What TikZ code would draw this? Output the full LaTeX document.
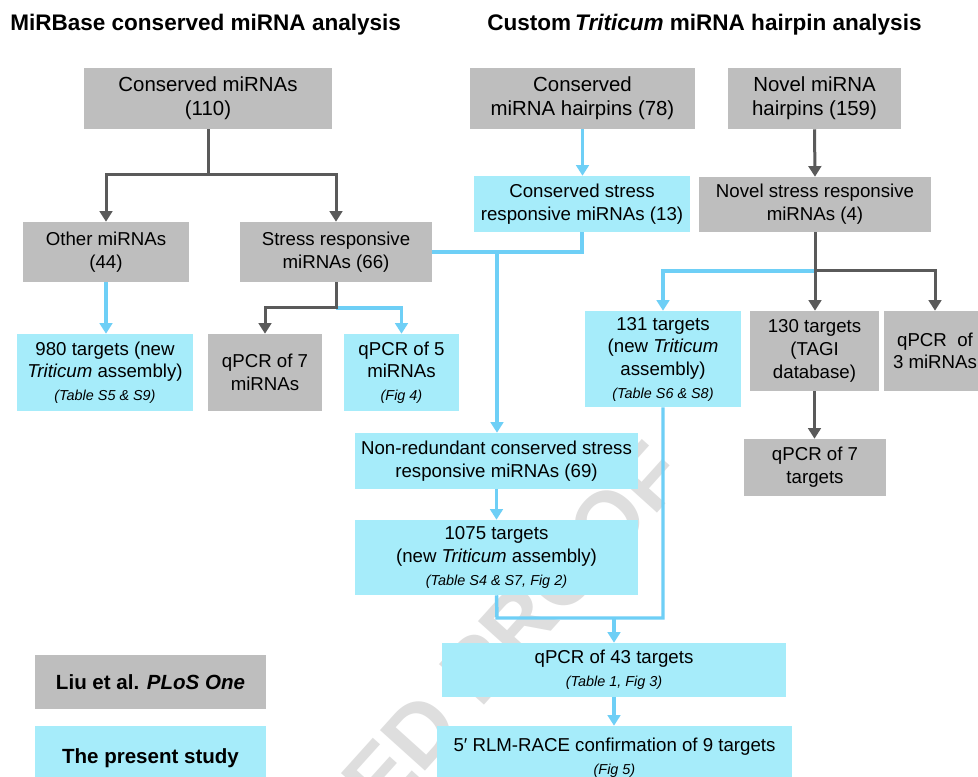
\documentclass[tikz,border=0pt]{standalone}
\usepackage{fontspec}
\setmainfont{Liberation Sans}
\usetikzlibrary{arrows.meta}
\definecolor{boxgray}{RGB}{190,190,190}
\definecolor{boxcyan}{RGB}{166,236,250}
\definecolor{linecyan}{RGB}{110,207,246}
\definecolor{linegray}{RGB}{90,90,90}
\definecolor{wmgray}{RGB}{222,222,222}
\newcommand\smallref[1]{{\fontsize{10.8}{12}\selectfont\itshape #1}}
\begin{document}
\begin{tikzpicture}[x=0.75pt,y=-0.75pt,
  box/.style={inner sep=0pt, align=center, font=\fontsize{14}{17}\selectfont, text=black},
  bigbox/.style={font=\fontsize{15.3}{18}\selectfont},
  gbox/.style={box, fill=boxgray},
  cbox/.style={box, fill=boxcyan},
  legend/.style={font=\fontsize{15.4}{18}\selectfont\bfseries},
  gline/.style={draw=linegray, line width=2.25pt},
  cline/.style={draw=linecyan, line width=2.6pt},
  garr/.style={gline, -{Triangle[width=9.5pt,length=8pt]}},
  carr/.style={cline, -{Triangle[width=9.5pt,length=8pt]}},
  title/.style={anchor=base west, inner sep=0pt, font=\fontsize{16.9}{20}\selectfont\bfseries}
]
\useasboundingbox (0,0) rectangle (978,777);
\fill[white] (0,0) rectangle (978,777);
% watermark
\begin{scope}
\clip (0,0) rectangle (978,777);
\node[rotate=48, anchor=base east, inner sep=0pt, text=wmgray, font=\fontsize{66}{72}\selectfont\bfseries] (wm) at (690,477) {UNCORRECTED PROOF};
\end{scope}
% titles
\node[title] (t1) at (10,31) {MiRBase conserved miRNA analysis};
\node[title] (t2) at (487,31) {Custom\hspace{3pt}\textit{Triticum} miRNA hairpin analysis};
% left column
\node[gbox, bigbox, minimum width=186pt, minimum height=45.75pt] (cm) at (208,98.5) {Conserved miRNAs\\(110)};
\node[gbox, minimum width=124.5pt, minimum height=45pt] (other) at (106,252) {Other miRNAs\\(44)};
\node[gbox, minimum width=144pt, minimum height=45pt] (stress) at (336,252) {Stress responsive\\miRNAs (66)};
\node[cbox, minimum width=132pt, minimum height=57.75pt] (t980) at (105,372.5) {980 targets (new\\\textit{Triticum} assembly)\\\smallref{(Table S5 \& S9)}};
\node[gbox, minimum width=85.5pt, minimum height=57.75pt] (q7m) at (265,372.5) {qPCR of 7\\miRNAs};
\node[cbox, minimum width=86.25pt, minimum height=57.75pt] (q5m) at (401.5,372.5) {qPCR of 5\\miRNAs\\\smallref{(Fig 4)}};
% right columns
\node[gbox, bigbox, minimum width=168.75pt, minimum height=45.75pt] (chp) at (582.5,98.5) {Conserved\\miRNA hairpins (78)};
\node[gbox, bigbox, minimum width=129.75pt, minimum height=45.75pt] (nhp) at (814.5,98.5) {Novel miRNA\\hairpins (159)};
\node[cbox, minimum width=162pt, minimum height=42pt] (css) at (582,204) {Conserved stress\\responsive miRNAs (13)};
\node[gbox, minimum width=174pt, minimum height=41.25pt] (nss) at (815,204.5) {Novel stress responsive\\miRNAs (4)};
\node[cbox, minimum width=117pt, minimum height=72pt] (t131) at (663,359) {131 targets\\(new \textit{Triticum}\\assembly)\\\smallref{(Table S6 \& S8)}};
\node[gbox, minimum width=96.75pt, minimum height=60pt] (t130) at (814.5,351) {130 targets\\(TAGI\\database)};
\node[gbox, minimum width=76.5pt, minimum height=60pt] (q3m) at (935,351) {qPCR\ \ of\\3 miRNAs};
\node[gbox, minimum width=106.5pt, minimum height=42.75pt] (q7t) at (815,467.5) {qPCR of 7\\targets};
\node[cbox, minimum width=212.25pt, minimum height=42pt] (nr) at (496.5,461) {Non-redundant conserved stress\\responsive miRNAs (69)};
\node[cbox, minimum width=212.25pt, minimum height=56.25pt] (t1075) at (496.5,557.5) {1075 targets\\(new \textit{Triticum} assembly)\\\smallref{(Table S4 \& S7, Fig 2)}};
\node[cbox, minimum width=258pt, minimum height=40.5pt] (q43) at (614,670) {qPCR of 43 targets\\\smallref{(Table 1, Fig 3)}};
\node[cbox, minimum width=266.25pt, minimum height=48pt] (race) at (614.5,758) {5′ RLM-RACE confirmation of 9 targets\\\smallref{(Fig 5)}};
% legend
\node[gbox, legend, minimum width=173.25pt, minimum height=40.5pt] (liu) at (150.5,682) {Liu et al. \textit{PLoS One}};
\node[cbox, legend, minimum width=173.25pt, minimum height=48pt] (present) at (150.5,758) {The present study};
% junctions
\coordinate (j1) at (208,175);
\coordinate (j2) at (336,308);
\coordinate (j3) at (582,252);
\coordinate (j4) at (497,252);
\coordinate (j5) at (815,271);
\coordinate (j6) at (497,618);
\coordinate (j7) at (663,618);
\coordinate (j8) at (614,618);
% connectors
\draw[garr] (cm.south) -- (j1) -| (other.north);
\draw[garr] (j1) -| (stress.north);
\draw[carr] (other.south) -- (other.south |- t980.north);
\draw[carr] (j2) -| (q5m.north);
\draw[garr] (stress.south) -- (j2) -| (q7m.north);
\draw[carr] (chp.south) -- (chp.south |- css.north);
\draw[garr] (nhp.south) -- (nss.north);
\draw[cline, line width=3pt] (css.south) -- (j3) -- (stress.east);
\draw[carr, line width=3.5pt] (j4) -- (j4 |- nr.north);
\draw[carr] (nr.south) -- (nr.south |- t1075.north);
\draw[carr] (j5) -| (t131.north);
\draw[gline] (nss.south) -- (j5);
\draw[garr] (j5) -| (q3m.north);
\draw[garr] (j5) -- (j5 |- t130.north);
\draw[garr] (t130.south) -- (t130.south |- q7t.north);
\draw[cline] (t1075.south) -- (j6) -- (j7) -- (t131.south);
\draw[carr] (j8) -- (j8 |- q43.north);
\draw[carr] (q43.south) -- (q43.south |- race.north);
\end{tikzpicture}
\end{document}
